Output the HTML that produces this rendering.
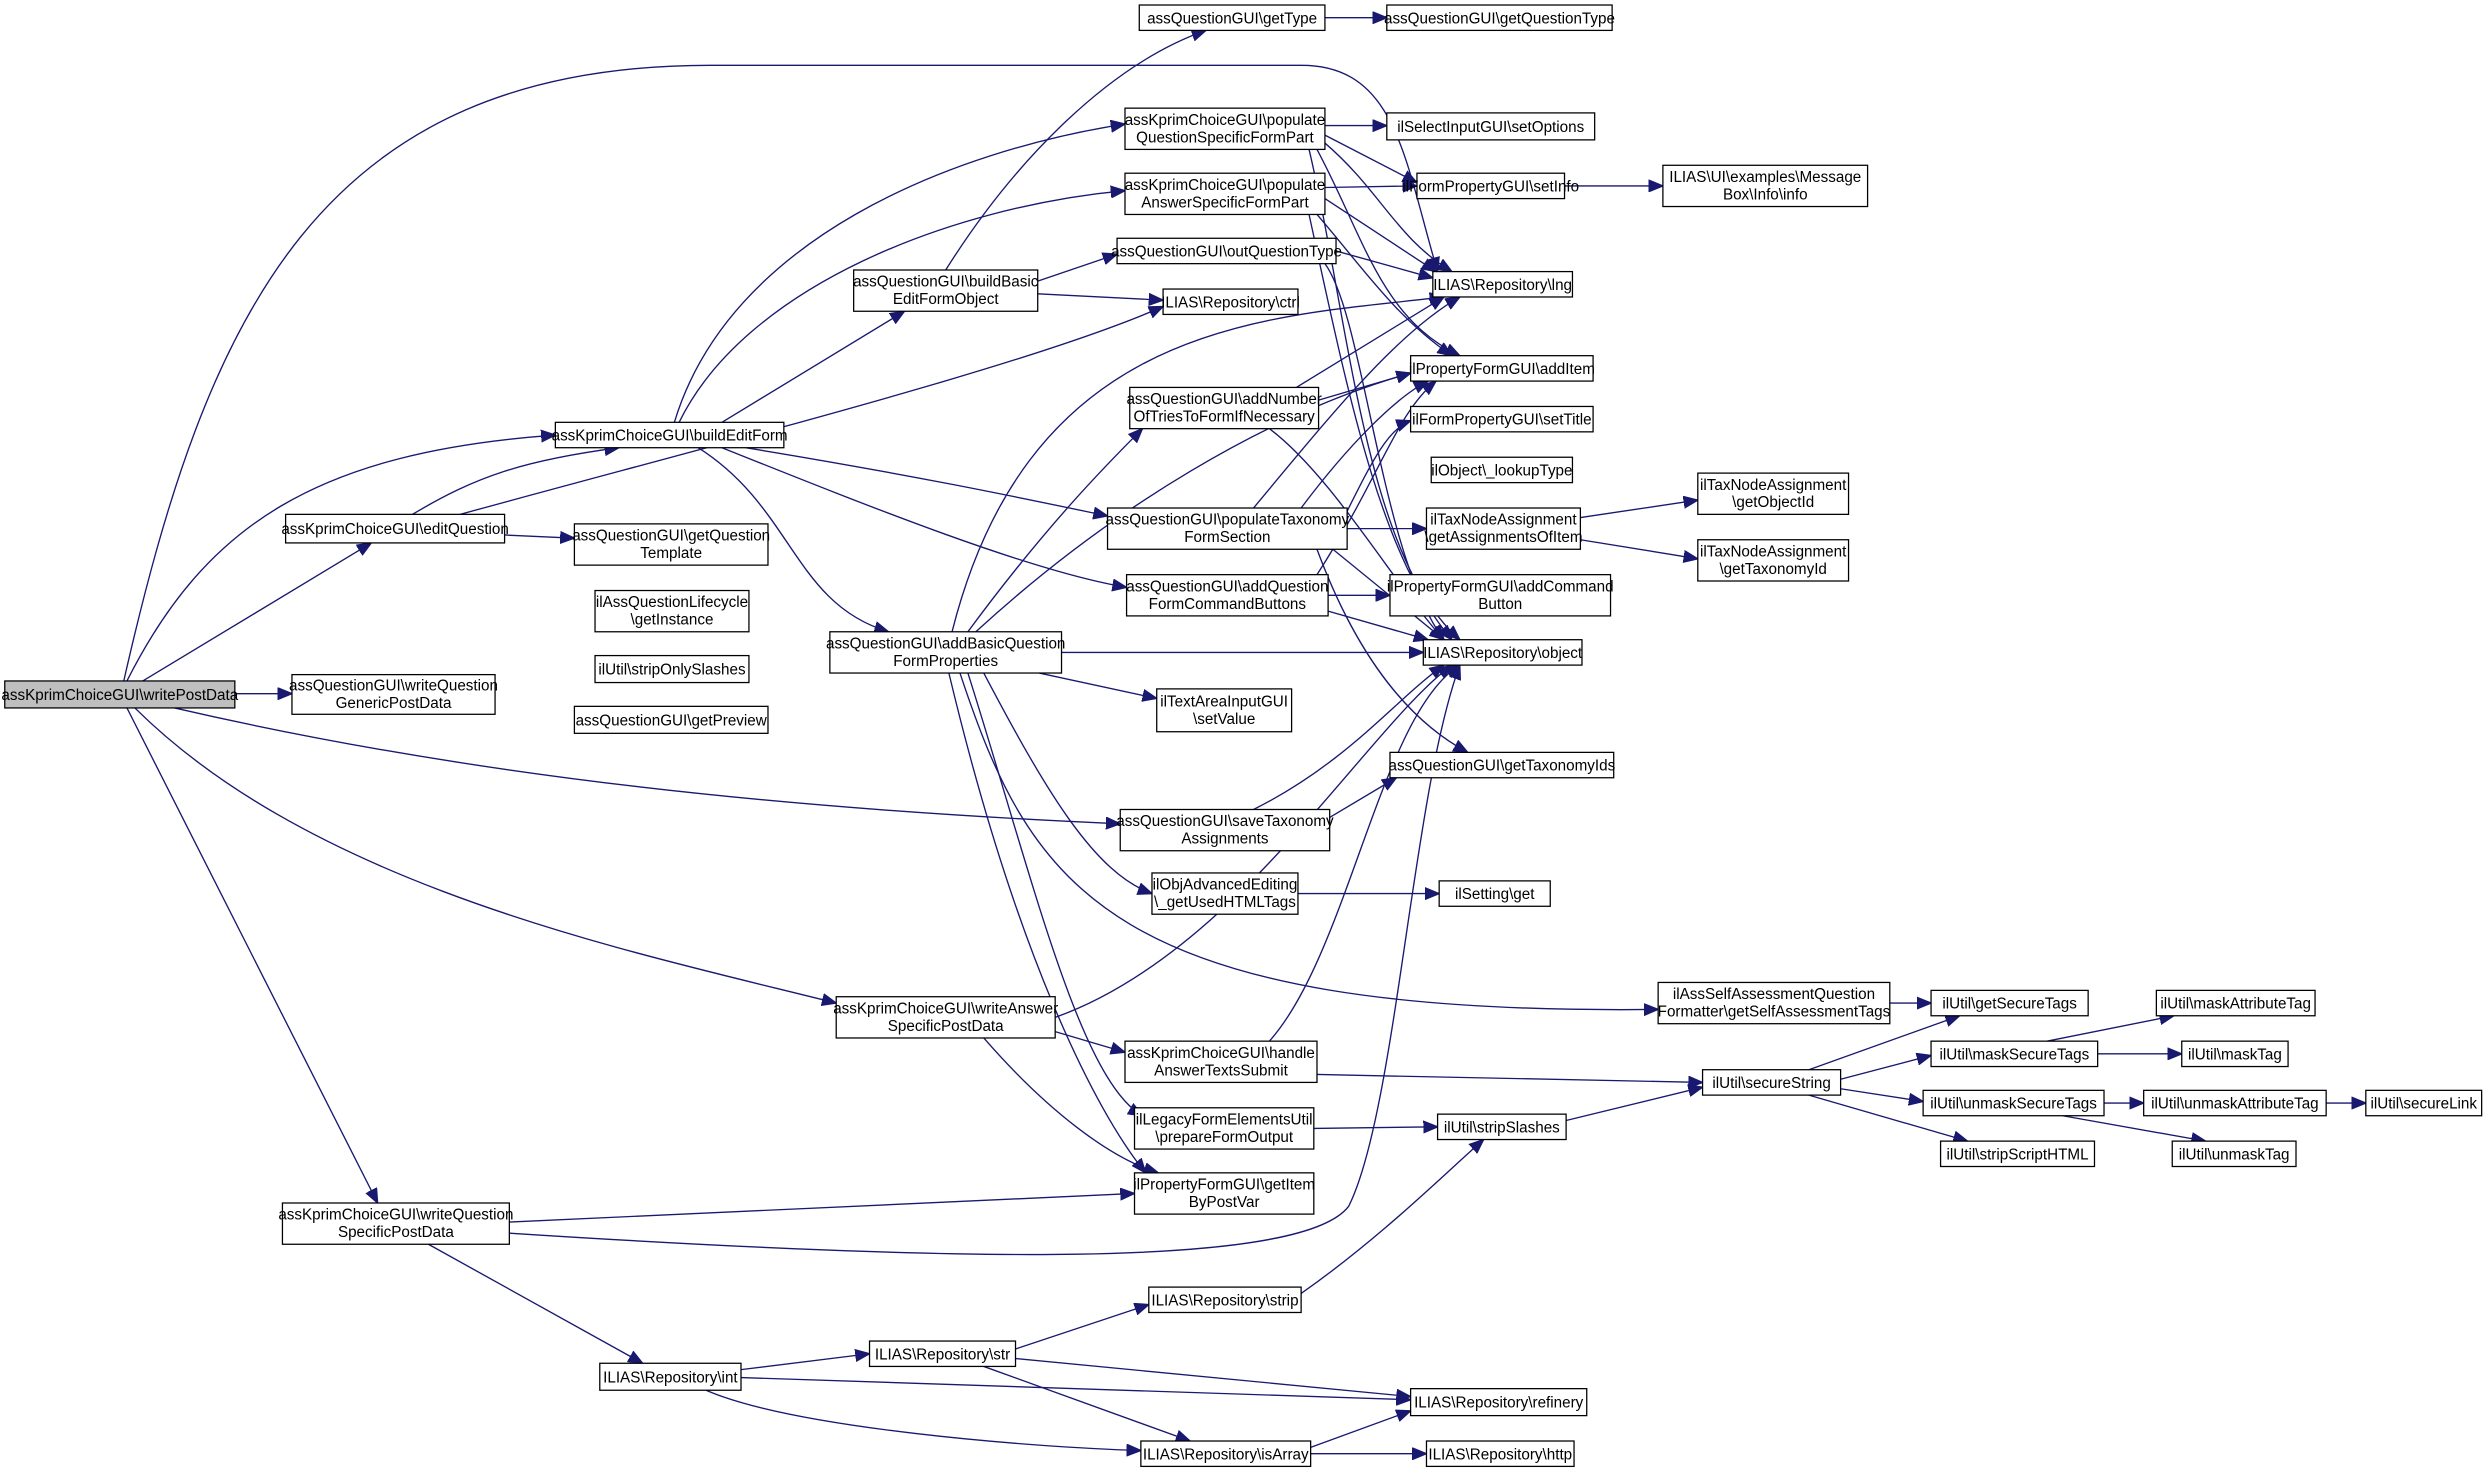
<!DOCTYPE html>
<html><head><meta charset="utf-8"><style>
html,body{margin:0;padding:0;background:#fff;}
svg{display:block}
text{font-family:"Liberation Sans",sans-serif;font-size:9.6px;fill:#000;text-anchor:middle}
rect{fill:#fff;stroke:#000;stroke-width:0.8}
path{fill:none;stroke:#191970;stroke-width:0.85}
</style></head><body>
<svg width="2488" height="1473" viewBox="0 0 1568 928" xmlns="http://www.w3.org/2000/svg">
<defs><marker id="a" markerUnits="userSpaceOnUse" markerWidth="10" markerHeight="8" refX="9" refY="4" orient="auto"><path d="M0,0.3 L9,4 L0,7.7 Z" style="fill:#191970;stroke:#191970"/></marker></defs>
<g marker-end="url(#a)">
<path d="M80,429 C130,330 200,285 350,274"/>
<path d="M90,429 L234,342"/>
<path d="M78,429 C130,200 200,40 450,41 L820,41 C880,41 885,100 906,171"/>
<path d="M148,437 L184,437"/>
<path d="M110,446 C300,490 500,510 706,519"/>
<path d="M85,446 C200,560 400,600 527,632"/>
<path d="M80,446 L238,758"/>
<path d="M260,324 C300,300 330,290 390,282"/>
<path d="M290,324 C450,280 650,230 733,193"/>
<path d="M318,337 L362,339"/>
<path d="M425,266 C460,150 600,95 709,78"/>
<path d="M428,266 C470,180 600,130 709,120"/>
<path d="M455,266 L570,196"/>
<path d="M470,282 C580,300 650,315 698,325"/>
<path d="M455,282 C550,320 650,360 710,370"/>
<path d="M440,282 C500,320 500,380 560,398"/>
<path d="M596,170 C640,100 700,40 760,19"/>
<path d="M654,177 L704,160"/>
<path d="M654,185 L733,189"/>
<path d="M835,11 L874,11"/>
<path d="M835,79 L874,79"/>
<path d="M835,85 L893,115"/>
<path d="M835,90 C870,120 880,150 915,171"/>
<path d="M830,94 C860,150 870,200 920,224"/>
<path d="M825,94 C850,200 860,350 920,403"/>
<path d="M835,118 L893,117"/>
<path d="M835,125 L905,171"/>
<path d="M830,135 C860,170 880,200 915,224"/>
<path d="M825,135 C850,250 870,350 915,403"/>
<path d="M986,117 L1048,117"/>
<path d="M842,158 L903,175"/>
<path d="M835,166 C860,200 870,350 910,403"/>
<path d="M817,244 L910,187"/>
<path d="M831,252 L889,235"/>
<path d="M800,270 C840,300 880,370 910,403"/>
<path d="M790,320 C840,260 880,210 920,187"/>
<path d="M849,322 C865,290 875,270 889,265"/>
<path d="M849,333 L899,333"/>
<path d="M840,346 L910,403"/>
<path d="M830,346 C850,400 880,450 925,474"/>
<path d="M820,320 C850,280 880,250 900,240"/>
<path d="M837,375 L876,375"/>
<path d="M837,385 L900,403"/>
<path d="M830,362 C870,300 880,260 905,240"/>
<path d="M600,398 C650,200 800,200 910,187"/>
<path d="M610,398 C660,330 700,290 720,270"/>
<path d="M615,398 C700,320 800,260 889,235"/>
<path d="M669,411 L897,411"/>
<path d="M655,424 L729,440"/>
<path d="M620,424 C660,500 690,550 726,563"/>
<path d="M605,424 C650,560 700,640 1045,636"/>
<path d="M610,424 C650,550 680,680 720,703"/>
<path d="M598,424 C640,600 690,700 722,739"/>
<path d="M996,326 L1070,315"/>
<path d="M996,340 L1070,352"/>
<path d="M790,510 C850,480 880,440 910,419"/>
<path d="M838,515 L880,490"/>
<path d="M818,563 L907,563"/>
<path d="M665,641 C780,600 860,460 915,419"/>
<path d="M665,650 L709,663"/>
<path d="M620,654 C660,700 700,730 730,739"/>
<path d="M800,656 C850,600 870,450 920,419"/>
<path d="M830,677 L1073,682"/>
<path d="M828,711 L906,710"/>
<path d="M987,706 L1073,685"/>
<path d="M1191,632 L1217,632"/>
<path d="M1140,674 L1235,640"/>
<path d="M1160,680 L1217,665"/>
<path d="M1160,686 L1212,694"/>
<path d="M1140,690 L1240,719"/>
<path d="M1290,656 L1370,640"/>
<path d="M1322,664 L1375,664"/>
<path d="M1326,695 L1351,695"/>
<path d="M1300,703 L1390,719"/>
<path d="M1466,695 L1491,695"/>
<path d="M321,770 L715,752"/>
<path d="M321,777 C600,795 820,800 850,760 C880,700 890,500 920,419"/>
<path d="M270,784 L405,859"/>
<path d="M467,863 L548,853"/>
<path d="M467,868 L889,882"/>
<path d="M445,876 C500,900 650,912 719,914"/>
<path d="M640,850 L724,822"/>
<path d="M640,856 L889,880"/>
<path d="M620,861 L750,908"/>
<path d="M820,815 C870,780 910,740 935,718"/>
<path d="M826,912 L889,889"/>
<path d="M826,916 L899,916"/>
</g>
<g>
<rect x="3" y="429" width="145" height="17" style="fill:#bfbfbf"/><text x="75.5" y="441">assKprimChoiceGUI\writePostData</text>
<rect x="180" y="324" width="138" height="18"/><text x="249" y="336.5">assKprimChoiceGUI\editQuestion</text>
<rect x="362" y="330" width="122" height="26"/><text x="423" y="340.5">assQuestionGUI\getQuestion</text><text x="423" y="351.5">Template</text>
<rect x="350" y="266" width="144" height="16"/><text x="422" y="277.5">assKprimChoiceGUI\buildEditForm</text>
<rect x="184" y="425" width="128" height="25"/><text x="248" y="435">assQuestionGUI\writeQuestion</text><text x="248" y="446">GenericPostData</text>
<rect x="375" y="372" width="97" height="26"/><text x="423.5" y="382.5">ilAssQuestionLifecycle</text><text x="423.5" y="393.5">\getInstance</text>
<rect x="375" y="413" width="97" height="17"/><text x="423.5" y="425">ilUtil\stripOnlySlashes</text>
<rect x="362" y="445" width="122" height="17"/><text x="423" y="457">assQuestionGUI\getPreview</text>
<rect x="538" y="170" width="116" height="26"/><text x="596" y="180.5">assQuestionGUI\buildBasic</text><text x="596" y="191.5">EditFormObject</text>
<rect x="523" y="398" width="146" height="26"/><text x="596" y="408.5">assQuestionGUI\addBasicQuestion</text><text x="596" y="419.5">FormProperties</text>
<rect x="718" y="3" width="117" height="16"/><text x="776.5" y="14.5">assQuestionGUI\getType</text>
<rect x="874" y="3" width="142" height="16"/><text x="945" y="14.5">assQuestionGUI\getQuestionType</text>
<rect x="709" y="68" width="126" height="26"/><text x="772" y="78.5">assKprimChoiceGUI\populate</text><text x="772" y="89.5">QuestionSpecificFormPart</text>
<rect x="709" y="109" width="126" height="26"/><text x="772" y="119.5">assKprimChoiceGUI\populate</text><text x="772" y="130.5">AnswerSpecificFormPart</text>
<rect x="704" y="150" width="138" height="16"/><text x="773" y="161.5">assQuestionGUI\outQuestionType</text>
<rect x="733" y="182" width="85" height="16"/><text x="775.5" y="193.5">ILIAS\Repository\ctrl</text>
<rect x="712" y="244" width="119" height="26"/><text x="771.5" y="254.5">assQuestionGUI\addNumber</text><text x="771.5" y="265.5">OfTriesToFormIfNecessary</text>
<rect x="698" y="320" width="151" height="26"/><text x="773.5" y="330.5">assQuestionGUI\populateTaxonomy</text><text x="773.5" y="341.5">FormSection</text>
<rect x="710" y="362" width="127" height="26"/><text x="773.5" y="372.5">assQuestionGUI\addQuestion</text><text x="773.5" y="383.5">FormCommandButtons</text>
<rect x="729" y="434" width="85" height="27"/><text x="771.5" y="445">ilTextAreaInputGUI</text><text x="771.5" y="456">\setValue</text>
<rect x="706" y="510" width="132" height="26"/><text x="772" y="520.5">assQuestionGUI\saveTaxonomy</text><text x="772" y="531.5">Assignments</text>
<rect x="726" y="550" width="92" height="26"/><text x="772" y="560.5">ilObjAdvancedEditing</text><text x="772" y="571.5">\_getUsedHTMLTags</text>
<rect x="527" y="628" width="138" height="26"/><text x="596" y="638.5">assKprimChoiceGUI\writeAnswer</text><text x="596" y="649.5">SpecificPostData</text>
<rect x="709" y="656" width="121" height="26"/><text x="769.5" y="666.5">assKprimChoiceGUI\handle</text><text x="769.5" y="677.5">AnswerTextsSubmit</text>
<rect x="715" y="698" width="113" height="26"/><text x="771.5" y="708.5">ilLegacyFormElementsUtil</text><text x="771.5" y="719.5">\prepareFormOutput</text>
<rect x="715" y="739" width="113" height="26"/><text x="771.5" y="749.5">ilPropertyFormGUI\getItem</text><text x="771.5" y="760.5">ByPostVar</text>
<rect x="178" y="758" width="143" height="26"/><text x="249.5" y="768.5">assKprimChoiceGUI\writeQuestion</text><text x="249.5" y="779.5">SpecificPostData</text>
<rect x="378" y="859" width="89" height="17"/><text x="422.5" y="871">ILIAS\Repository\int</text>
<rect x="548" y="845" width="92" height="16"/><text x="594" y="856.5">ILIAS\Repository\str</text>
<rect x="724" y="811" width="96" height="16"/><text x="772" y="822.5">ILIAS\Repository\strip</text>
<rect x="719" y="908" width="107" height="16"/><text x="772.5" y="919.5">ILIAS\Repository\isArray</text>
<rect x="889" y="875" width="111" height="17"/><text x="944.5" y="887">ILIAS\Repository\refinery</text>
<rect x="899" y="908" width="93" height="16"/><text x="945.5" y="919.5">ILIAS\Repository\http</text>
<rect x="874" y="71" width="131" height="17"/><text x="939.5" y="83">ilSelectInputGUI\setOptions</text>
<rect x="893" y="109" width="93" height="16"/><text x="939.5" y="120.5">ilFormPropertyGUI\setInfo</text>
<rect x="1048" y="104" width="129" height="26"/><text x="1112.5" y="114.5">ILIAS\UI\examples\Message</text><text x="1112.5" y="125.5">Box\Info\info</text>
<rect x="903" y="171" width="88" height="16"/><text x="947" y="182.5">ILIAS\Repository\lng</text>
<rect x="889" y="224" width="115" height="16"/><text x="946.5" y="235.5">ilPropertyFormGUI\addItem</text>
<rect x="889" y="256" width="115" height="16"/><text x="946.5" y="267.5">ilFormPropertyGUI\setTitle</text>
<rect x="902" y="288" width="89" height="16"/><text x="946.5" y="299.5">ilObject\_lookupType</text>
<rect x="899" y="320" width="97" height="26"/><text x="947.5" y="330.5">ilTaxNodeAssignment</text><text x="947.5" y="341.5">\getAssignmentsOfItem</text>
<rect x="876" y="362" width="139" height="26"/><text x="945.5" y="372.5">ilPropertyFormGUI\addCommand</text><text x="945.5" y="383.5">Button</text>
<rect x="897" y="403" width="100" height="16"/><text x="947" y="414.5">ILIAS\Repository\object</text>
<rect x="876" y="474" width="141" height="16"/><text x="946.5" y="485.5">assQuestionGUI\getTaxonomyIds</text>
<rect x="907" y="555" width="70" height="16"/><text x="942" y="566.5">ilSetting\get</text>
<rect x="1070" y="298" width="95" height="26"/><text x="1117.5" y="308.5">ilTaxNodeAssignment</text><text x="1117.5" y="319.5">\getObjectId</text>
<rect x="1070" y="340" width="95" height="26"/><text x="1117.5" y="350.5">ilTaxNodeAssignment</text><text x="1117.5" y="361.5">\getTaxonomyId</text>
<rect x="1045" y="619" width="146" height="26"/><text x="1118" y="629.5">ilAssSelfAssessmentQuestion</text><text x="1118" y="640.5">Formatter\getSelfAssessmentTags</text>
<rect x="1073" y="674" width="87" height="16"/><text x="1116.5" y="685.5">ilUtil\secureString</text>
<rect x="906" y="702" width="81" height="16"/><text x="946.5" y="713.5">ilUtil\stripSlashes</text>
<rect x="1217" y="624" width="99" height="16"/><text x="1266.5" y="635.5">ilUtil\getSecureTags</text>
<rect x="1217" y="656" width="105" height="16"/><text x="1269.5" y="667.5">ilUtil\maskSecureTags</text>
<rect x="1212" y="687" width="114" height="16"/><text x="1269" y="698.5">ilUtil\unmaskSecureTags</text>
<rect x="1223" y="719" width="97" height="16"/><text x="1271.5" y="730.5">ilUtil\stripScriptHTML</text>
<rect x="1359" y="624" width="100" height="16"/><text x="1409" y="635.5">ilUtil\maskAttributeTag</text>
<rect x="1375" y="656" width="67" height="16"/><text x="1408.5" y="667.5">ilUtil\maskTag</text>
<rect x="1351" y="687" width="115" height="16"/><text x="1408.5" y="698.5">ilUtil\unmaskAttributeTag</text>
<rect x="1369" y="719" width="78" height="16"/><text x="1408" y="730.5">ilUtil\unmaskTag</text>
<rect x="1491" y="687" width="73" height="16"/><text x="1527.5" y="698.5">ilUtil\secureLink</text>
</g>
</svg>
</body></html>
